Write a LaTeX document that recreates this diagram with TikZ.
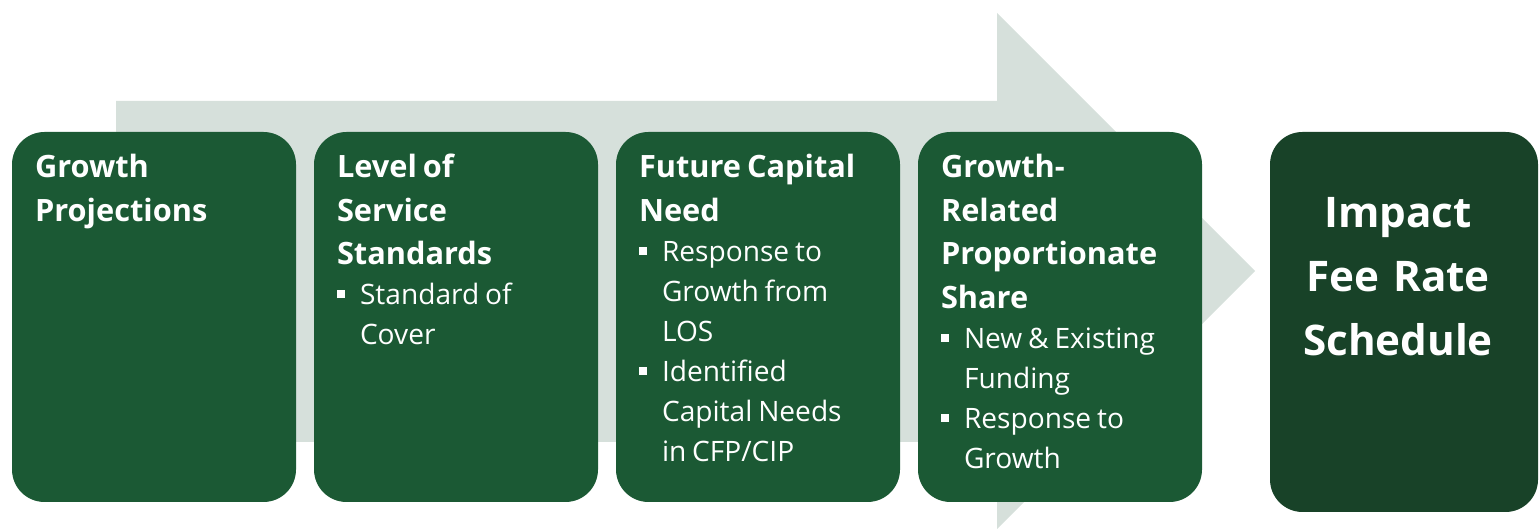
\documentclass[tikz,border=0pt]{standalone}
\usepackage{fontspec}
\setmainfont{Open Sans}
\usetikzlibrary{positioning}
\definecolor{boxgreen}{RGB}{27,89,52}
\definecolor{boxdark}{RGB}{24,66,40}
\definecolor{arrowgray}{RGB}{214,224,219}
\tikzstyle{stage}     = [rectangle, fill=boxgreen, rounded corners=0.65cm, minimum width=5.68cm, minimum height=7.4cm, inner sep=0pt]
\tikzstyle{result}    = [stage, fill=boxdark, minimum width=5.36cm, minimum height=7.6cm]
\tikzstyle{stagetext} = [text=white, inner sep=0pt, text width=5.1cm, align=left, anchor=base west]
\tikzstyle{resulttext}= [text=white, inner sep=0pt, text width=5cm, align=center, anchor=base, font=\bfseries\fontsize{24}{36.3}\selectfont]
\newcommand{\stitle}[1]{{\bfseries\fontsize{17.5}{24.8}\selectfont #1\par}}
\newcommand{\bitem}[1]{{\fontsize{16}{22.8}\selectfont\par\hangindent=0.46cm\hangafter=1\noindent\makebox[0.46cm][l]{\rule[0.24em]{0.16cm}{0.16cm}}#1\par}}

\begin{document}
\begin{tikzpicture}[node distance=6.04cm]
	\useasboundingbox (0,0) rectangle (30.78,10.6);
	% big arrow behind the boxes
	\fill [arrowgray] (2.32,1.76) -- (2.32,8.58) -- (19.94,8.58) -- (19.94,10.34) -- (25.1,5.18) -- (19.94,0.02) -- (19.94,1.76) -- cycle;

	\node [stage] (growth) at (3.08,4.26) {};
	\node [stage, right of=growth] (los) {};
	\node [stage, right of=los] (capital) {};
	\node [stage, right of=capital] (share) {};
	\node [result] (fee) at (28.08,4.16) {};

	\node [stagetext] (growthtxt) at ([shift={(0.46,-0.92)}]growth.north west) {\stitle{Growth\newline Projections}};
	\node [stagetext] (lostxt) at ([shift={(0.46,-0.92)}]los.north west) {\stitle{Level of\newline Service\newline Standards}\bitem{Standard of\newline Cover}};
	\node [stagetext] (capitaltxt) at ([shift={(0.46,-0.92)}]capital.north west) {\stitle{Future Capital\newline Need}\bitem{Response to\newline Growth from\newline LOS}\bitem{Identified\newline Capital Needs\newline in CFP/CIP}};
	\node [stagetext] (sharetxt) at ([shift={(0.46,-0.92)}]share.north west) {\stitle{Growth-\newline Related\newline Proportionate\newline Share}\bitem{New \& Existing\newline Funding}\bitem{Response to\newline Growth}};
	\node [resulttext] (feetxt) at ([shift={(-0.12,-1.92)}]fee.north) {Impact\\Fee Rate\\Schedule};
\end{tikzpicture}
\end{document}
